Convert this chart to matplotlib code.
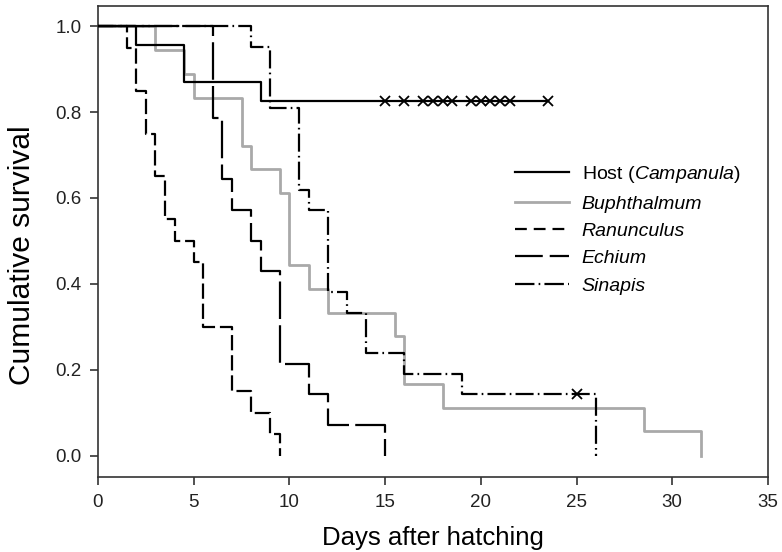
import matplotlib
matplotlib.use("Agg")
import matplotlib.pyplot as plt
from matplotlib.lines import Line2D

plt.rcParams['font.family'] = ['Liberation Sans', 'DejaVu Sans']
plt.rcParams['mathtext.fontset'] = 'custom'
plt.rcParams['mathtext.rm'] = 'Liberation Sans'
plt.rcParams['mathtext.it'] = 'Liberation Sans:italic'
plt.rcParams['lines.scale_dashes'] = False

#---------------------------------------------------
# survival steps (days, cumulative survival)
#---------------------------------------------------
host_days = [0, 2, 4.5, 8.5, 23.5]
host_surv = [1.0, 0.957, 0.870, 0.826, 0.826]
host_cens = [15, 16, 17, 17.5, 18, 18.5, 19.5, 20, 20.5, 21, 21.5, 23.5]

buph_days = [0, 3, 4.5, 5, 7.5, 8, 9.5, 10, 11, 12, 15.5, 16, 18, 28.5, 31.5]
buph_surv = [1.0, 0.944, 0.889, 0.833, 0.722, 0.667, 0.611, 0.444, 0.389,
             0.333, 0.278, 0.167, 0.111, 0.056, 0.0]

ranu_days = [0, 1.5, 2, 2.5, 3, 3.5, 4, 5, 5.5, 7, 8, 9, 9.5]
ranu_surv = [1.0, 0.95, 0.85, 0.75, 0.65, 0.55, 0.50, 0.45, 0.30, 0.15, 0.10, 0.05, 0.0]

echi_days = [0, 6, 6.5, 7, 8, 8.5, 9.5, 11, 12, 15]
echi_surv = [1.0, 0.786, 0.643, 0.571, 0.50, 0.429, 0.214, 0.143, 0.071, 0.0]

sina_days = [0, 8, 9, 10.5, 11, 12, 13, 14, 16, 19, 26]
sina_surv = [1.0, 0.952, 0.810, 0.619, 0.571, 0.381, 0.333, 0.238, 0.190, 0.143, 0.0]
sina_cens = [25]

gray = '#a9a9a9'
ranu_dash = (11, 3.5)
echi_dash = (27, 4.5)
sina_dash = (13, 3, 1.2, 3)

fig = plt.figure(figsize=(7.82, 5.52), dpi=100)
ax = fig.add_axes([0.1253, 0.1359, 0.8567, 0.8532])

ax.step(buph_days, buph_surv, where='post', color=gray, lw=2.0, zorder=2)
ax.step(host_days, host_surv, where='post', color='black', lw=1.6, zorder=3)
ax.step(ranu_days, ranu_surv, where='post', color='black', lw=1.6,
        dashes=ranu_dash, zorder=3)
ax.step(echi_days, echi_surv, where='post', color='black', lw=1.6,
        dashes=echi_dash, zorder=3)
ax.step(sina_days, sina_surv, where='post', color='black', lw=1.6,
        dashes=sina_dash, zorder=3)

# censored observations
ax.plot(host_cens, [host_surv[-1]] * len(host_cens), 'x', color='black',
        ms=7, mew=1.3, zorder=4)
ax.plot(sina_cens, [sina_surv[-2]] * len(sina_cens), 'x', color='black',
        ms=7, mew=1.3, zorder=4)

ax.set_xlim(0, 35)
ax.set_ylim(-0.05, 1.047)
ax.set_xticks([0, 5, 10, 15, 20, 25, 30, 35])
ax.set_yticks([0.0, 0.2, 0.4, 0.6, 0.8, 1.0])
ax.set_yticklabels(['0.0', '0.2', '0.4', '0.6', '0.8', '1.0'])
ax.tick_params(direction='out', length=6, width=1.1, labelsize=13.5,
               colors='#222222', pad=6)
for sp in ax.spines.values():
    sp.set_linewidth(1.2)
    sp.set_color('#333333')

ax.set_xlabel('Days after hatching', fontsize=18.5, labelpad=11)
ax.set_ylabel('Cumulative survival', fontsize=21.5)
ax.yaxis.set_label_coords(-0.092, 0.47)

# legend uses shorter dash samples than the curves
handles = [
    Line2D([], [], color='black', lw=1.6),
    Line2D([], [], color=gray, lw=2.0),
    Line2D([], [], color='black', lw=1.6, dashes=(8.5, 5)),
    Line2D([], [], color='black', lw=1.6, dashes=(20, 5)),
    Line2D([], [], color='black', lw=1.6, dashes=(14, 3, 1.2, 3)),
]
labels = ['Host ($\\it{Campanula}$)', 'Buphthalmum', 'Ranunculus', 'Echium', 'Sinapis']
leg = ax.legend(handles, labels, loc='upper left', bbox_to_anchor=(0.622, 0.664),
                frameon=False, fontsize=14, handlelength=2.8, handletextpad=0.65,
                labelspacing=0.5, borderpad=0, borderaxespad=0)
for t in leg.get_texts()[1:]:
    t.set_style('italic')

plt.savefig('out.png', dpi=100)
